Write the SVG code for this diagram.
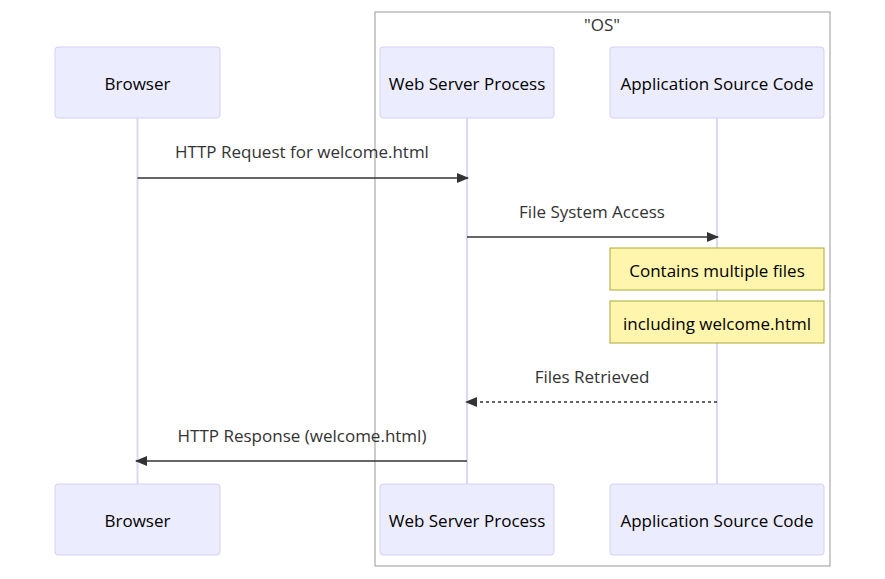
<svg xmlns="http://www.w3.org/2000/svg" width="885" height="579" viewBox="0 0 885 579">
<style>
text{font-family:"Open Sans","Liberation Sans",Arial,sans-serif;font-size:17px;fill:#333;text-anchor:middle;dominant-baseline:central}
.actor rect{fill:#ececff;stroke:#d6d0f5;stroke-width:1}
.actor text{fill:#000}
.life{stroke:#ddd6f5;stroke-width:2}
.msg{stroke:#333;stroke-width:1.5;fill:none}
.note rect{fill:#fff5ad;stroke:#aaaa33;stroke-width:1}
.note text{fill:#000}
</style>
<defs>
<marker id="arr" viewBox="0 0 12 10" refX="11" refY="5" markerWidth="12" markerHeight="10" markerUnits="userSpaceOnUse" orient="auto">
<path d="M0,0 L12,5 L0,10 z" fill="#333"/>
</marker>
</defs>
<rect width="885" height="579" fill="#fff"/>
<g id="os-box">
<rect x="375" y="12" width="455" height="554" fill="none" stroke="#999" stroke-width="1"/>
<text x="602" y="24">"OS"</text>
</g>
<g id="lifelines">
<line class="life" x1="137.5" y1="118" x2="137.5" y2="484"/>
<line class="life" x1="467" y1="118" x2="467" y2="484"/>
<line class="life" x1="717" y1="118" x2="717" y2="484"/>
</g>
<g id="browser-top" class="actor"><rect x="55" y="47" width="165" height="71" rx="3"/><text x="137.5" y="83">Browser</text></g>
<g id="web-top" class="actor"><rect x="380" y="47" width="174" height="71" rx="3"/><text x="467" y="83">Web Server Process</text></g>
<g id="app-top" class="actor"><rect x="610" y="47" width="214" height="71" rx="3"/><text x="717" y="83">Application Source Code</text></g>
<g id="browser-bottom" class="actor"><rect x="55" y="484" width="165" height="71" rx="3"/><text x="137.5" y="520">Browser</text></g>
<g id="web-bottom" class="actor"><rect x="380" y="484" width="174" height="71" rx="3"/><text x="467" y="520">Web Server Process</text></g>
<g id="app-bottom" class="actor"><rect x="610" y="484" width="214" height="71" rx="3"/><text x="717" y="520">Application Source Code</text></g>
<g id="note1" class="note"><rect x="610" y="248" width="214" height="42"/><text x="717" y="270">Contains multiple files</text></g>
<g id="note2" class="note"><rect x="610" y="301" width="214" height="42"/><text x="717" y="323">including welcome.html</text></g>
<g id="connectors">
<line class="msg" x1="137.5" y1="178" x2="468" y2="178" marker-end="url(#arr)"/>
<text x="302" y="151">HTTP Request for welcome.html</text>
<line class="msg" x1="467" y1="237" x2="718" y2="237" marker-end="url(#arr)"/>
<text x="592" y="211">File System Access</text>
<line class="msg" x1="717" y1="402" x2="466" y2="402" stroke-dasharray="3,3" marker-end="url(#arr)"/>
<text x="592" y="376">Files Retrieved</text>
<line class="msg" x1="467" y1="461" x2="136" y2="461" marker-end="url(#arr)"/>
<text x="302" y="435">HTTP Response (welcome.html)</text>
</g>
</svg>
